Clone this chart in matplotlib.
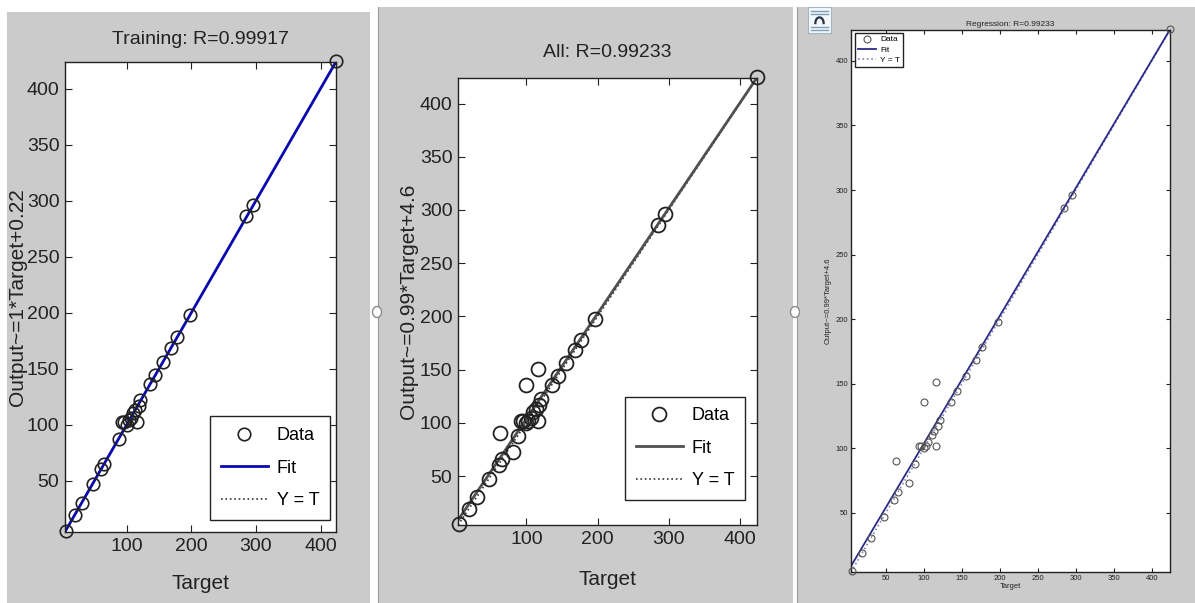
import matplotlib
matplotlib.use("Agg")
import matplotlib.pyplot as plt
from matplotlib.patches import Rectangle, Ellipse
import numpy as np

plt.rcParams['font.family'] = ['Liberation Sans', 'DejaVu Sans']

# ---------------- data ----------------
# Training subset (Target, Output)
train_target = [5, 19, 30, 48, 60, 65, 88, 93, 96, 100, 103, 106, 110, 113, 116, 118, 121,
                136, 144, 156, 168, 177, 197, 285, 295, 424]
train_output = [5, 19, 30, 47, 60, 65, 87, 102, 102, 100, 104, 106, 110, 113, 102, 117, 122,
                136, 144, 156, 168, 178, 198, 286, 296, 425]

# All data (Target, Output)
all_target = [5, 19, 30, 48, 61, 66, 63, 81, 88, 93, 96, 100, 103, 100, 106, 110, 113, 116, 116,
              118, 121, 136, 144, 156, 168, 177, 197, 285, 295, 424]
all_output = [5, 19, 30, 47, 60, 66, 90, 73, 88, 102, 102, 100, 102, 136, 105, 110, 113, 102, 151,
              117, 122, 136, 144, 156, 168, 178, 198, 286, 296, 425]

titles = ["Training: R=0.99917", "All: R=0.99233", "Regression: R=0.99233"]
ylabels = ["Output~=1*Target+0.22", "Output~=0.99*Target+4.6", "Output~=0.99*Target+4.6"]
fit_slopes = [1.0, 0.99, 0.99]
fit_intercepts = [0.22, 4.6, 4.6]
xticks_big = [100, 200, 300, 400]
xticks_small = [50, 100, 150, 200, 250, 300, 350, 400]
yticks = [50, 100, 150, 200, 250, 300, 350, 400]
lims = (4, 424)

W, H = 1195, 603
fig = plt.figure(figsize=(W / 100, H / 100), dpi=100)
fig.patch.set_facecolor('white')

def fr(x0, y0, x1, y1):
    return [x0 / W, 1 - y1 / H, (x1 - x0) / W, (y1 - y0) / H]

GRAY = '#cbcbcb'
# panel backgrounds
for (x0, y0, x1, y1) in [(7, 12, 370, 603), (378, 7, 793, 603), (797, 7, 1195, 603)]:
    fig.patches.append(Rectangle((x0 / W, 1 - y1 / H), (x1 - x0) / W, (y1 - y0) / H,
                                 transform=fig.transFigure, facecolor=GRAY, edgecolor='none', zorder=-5))
# thin separator lines
for x in [377.5, 796.5]:
    fig.add_artist(plt.Line2D([x / W, x / W], [0, 1 - 7 / H], transform=fig.transFigure,
                              color='#9a9a9a', lw=0.8, zorder=-4))
# handle circles
for (x, y) in [(377, 312), (795, 312)]:
    fig.add_artist(Ellipse((x / W, 1 - y / H), 9 / W, 11 / H, transform=fig.transFigure,
                           facecolor='white', edgecolor='#8a8a8a', lw=1.0, zorder=5))

# icon in panel 3
icon = fig.add_axes(fr(808, 7, 831, 33))
icon.set_xlim(0, 1); icon.set_ylim(0, 1)
icon.set_facecolor('#f4f8fb')
for s in icon.spines.values():
    s.set_color('#9fb6c8'); s.set_linewidth(0.8)
icon.set_xticks([]); icon.set_yticks([])
for yy in [0.85, 0.72, 0.25, 0.12]:
    icon.plot([0.12, 0.88], [yy, yy], color='#7f9cb5', lw=1.0)
th = np.linspace(0, np.pi, 30)
icon.plot(0.5 + 0.18 * np.cos(th), 0.38 + 0.22 * np.sin(th), color='#223344', lw=1.6)

def panel(rect, title, ylabel, slope, intercept, tx, ty, xticks, fs_tick, fs_lab, fs_title,
          fit_color, ms, mew, legend_loc, legend_anchor, legend_fs, ylab_x, title_pad, xlab_pad,
          small=False):
    ax = fig.add_axes(rect)
    ax.set_xlim(*lims); ax.set_ylim(*lims)
    xs = np.array(lims)
    ax.plot(xs, slope * xs + intercept, color=fit_color, lw=2.0 if not small else 1.3,
            label='Fit', zorder=2)
    ax.plot(xs, xs, color='#333333' if not small else '#8888aa', ls=':', lw=1.2, label='Y = T', zorder=1)
    ax.plot(tx, ty, 'o', mfc='none', mec='#222222' if not small else '#555555', ms=ms, mew=mew,
            ls='none', label='Data', zorder=3, clip_on=False)
    ax.set_xticks(xticks); ax.set_yticks(yticks)
    ax.tick_params(direction='in', top=True, right=True, labelsize=fs_tick,
                   length=5 if not small else 3, width=0.8, colors='#222222', pad=4 if not small else 2)
    for s in ax.spines.values():
        s.set_linewidth(1.0); s.set_color('#222222')
    ax.set_title(title, fontsize=fs_title, color='#222222', pad=title_pad)
    ax.set_xlabel('Target', fontsize=fs_lab, color='#222222', labelpad=xlab_pad)
    ax.set_ylabel(ylabel, fontsize=fs_lab, color='#222222')
    ax.yaxis.set_label_coords(ylab_x, 0.5)
    handles, labels = ax.get_legend_handles_labels()
    order = [2, 0, 1]
    leg = ax.legend([handles[i] for i in order], [labels[i] for i in order], loc=legend_loc,
                    bbox_to_anchor=legend_anchor,
                    fontsize=legend_fs, fancybox=False, framealpha=1, edgecolor='#222222',
                    handlelength=2.6 if not small else 2.2, borderpad=0.6 if not small else 0.35,
                    labelspacing=0.85 if not small else 0.3, handletextpad=0.5,
                    borderaxespad=0.0)
    leg.get_frame().set_linewidth(1.0)
    return ax

panel(fr(65, 62, 336, 532), titles[0], ylabels[0], fit_slopes[0], fit_intercepts[0],
      train_target, train_output, xticks_big, 14, 15, 14, '#0a0ab0', 9, 1.2,
      'lower right', (0.978, 0.026), 13, -0.14, 13, 14)
panel(fr(458, 78, 757, 525), titles[1], ylabels[1], fit_slopes[1], fit_intercepts[1],
      all_target, all_output, xticks_big, 14, 15, 14, '#505050', 10, 1.3,
      'lower right', (0.96, 0.056), 13, -0.135, 15, 16)
panel(fr(851, 30, 1170, 572), titles[2], ylabels[2], fit_slopes[2], fit_intercepts[2],
      all_target, all_output, xticks_small, 5.5, 5.5, 6, '#2a2a8a', 5, 0.8,
      'upper left', (0.012, 0.995), 6, -0.06, 3, 1, small=True)

fig.savefig('out.png', dpi=100, facecolor='white')
